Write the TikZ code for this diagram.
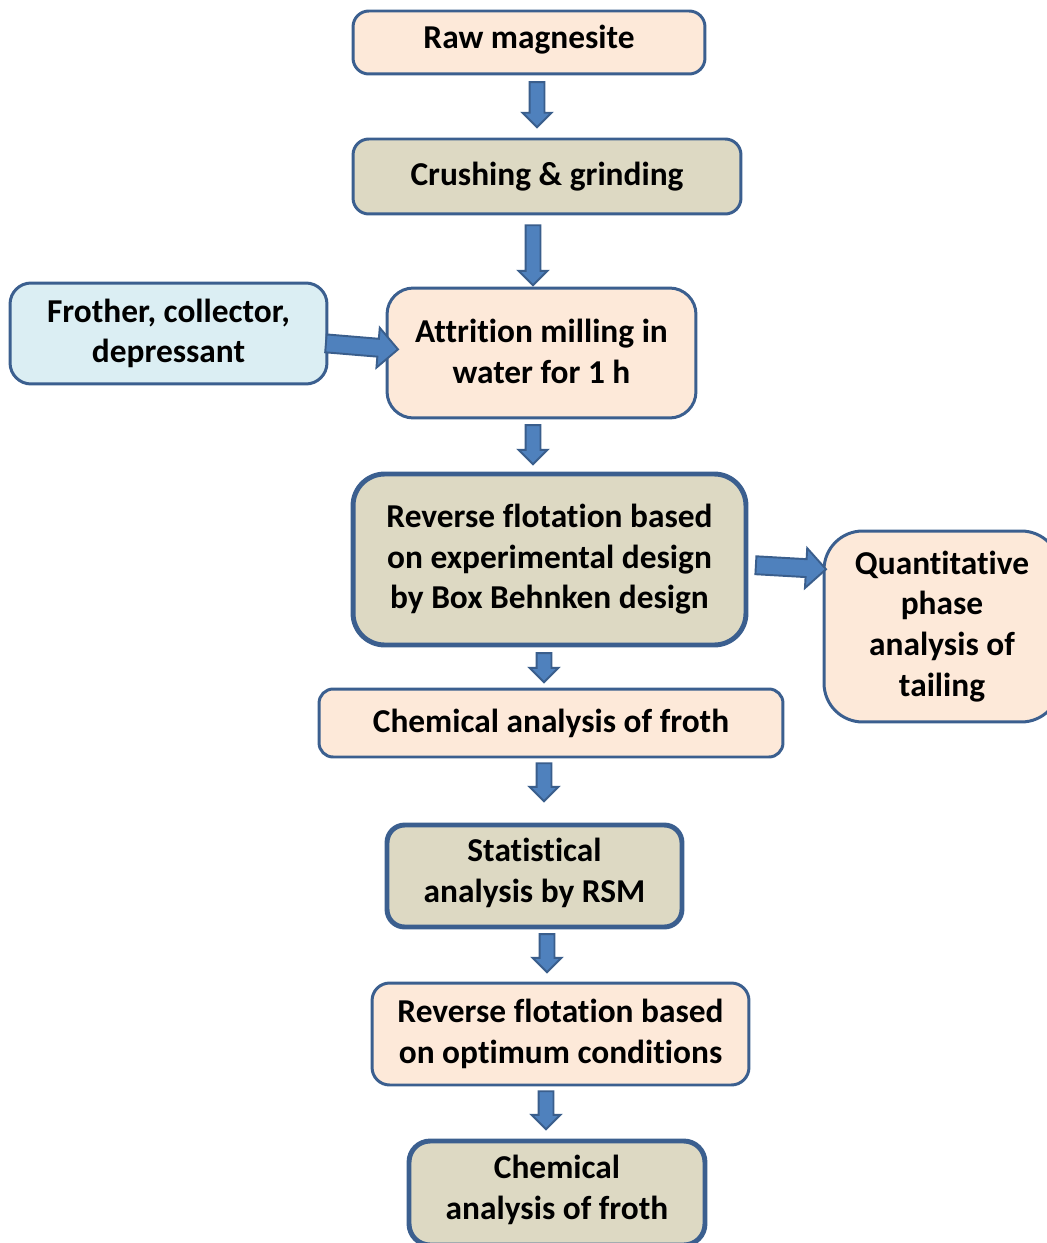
\documentclass[tikz,border=0pt]{standalone}
\usepackage{fontspec}
\setmainfont{Carlito}[RawFeature={-liga;-clig;-dlig}]
\usetikzlibrary{shapes.arrows,calc}

\definecolor{boxline}{HTML}{3B5F8F}
\definecolor{arrowline}{HTML}{3A5E8C}
\definecolor{arrowfill}{HTML}{4F81BD}
\definecolor{peachfill}{HTML}{FDE9D9}
\definecolor{tanfill}{HTML}{DDD9C3}
\definecolor{bluefill}{HTML}{DBEEF3}

\tikzset{
  stepbox/.style={draw=boxline, line width=1.7pt, align=center, inner sep=0pt,
    font=\bfseries\fontsize{19}{23.2}\selectfont},
  peach/.style={stepbox, fill=peachfill},
  tan/.style={stepbox, fill=tanfill},
  heavy/.style={line width=2.8pt},
  lift/.style={execute at end node={\rule[-#1]{0pt}{#1}}},
  blockarrow/.style={single arrow, draw=arrowline, fill=arrowfill, line width=1.1pt,
    inner xsep=0pt, inner ysep=0.13cm, single arrow head extend=0.14cm, allow upside down},
  widearrow/.style={inner ysep=0.16cm, single arrow head extend=0.22cm},
}

% block arrow between two points
\newcommand\flowarrow[3][]{%
  \path let \p1=(#2), \p2=(#3), \n1={veclen(\x2-\x1,\y2-\y1)} in
    (\p1) -- (\p2) node[midway, sloped, blockarrow, minimum height=\n1, #1] {};}

\begin{document}
\begin{tikzpicture}[x=0.02cm, y=-0.02cm]
	\useasboundingbox (0,0) rectangle (1047,1243);

	\node (raw)[peach, lift=0.24cm, rounded corners=9pt, minimum width=7.04cm, minimum height=1.26cm] at (529,42.5) {Raw magnesite};
	\node (crush)[tan, rounded corners=9pt, minimum width=7.76cm, minimum height=1.5cm] at (547,176.5) {Crushing \& grinding};
	\node (froth)[stepbox, fill=bluefill, rounded corners=12pt, minimum width=6.34cm, minimum height=2.02cm] at (168.5,333.5) {Frother, collector,\\depressant};
	\node (mill)[peach, lift=0.08cm, rounded corners=15pt, minimum width=6.18cm, minimum height=2.6cm] at (541.5,353) {Attrition milling in\\water for 1 h};
	\node (bbd)[tan, heavy, lift=0.12cm, rounded corners=18pt, minimum width=7.86cm, minimum height=3.42cm] at (549.5,559.5) {Reverse flotation based\\on experimental design\\by Box Behnken design};
	\node (quant)[peach, lift=0.12cm, rounded corners=22pt, minimum width=4.72cm, minimum height=3.82cm] at (942,626.5) {Quantitative\\phase\\analysis of\\tailing};
	\node (chemA)[peach, rounded corners=8pt, minimum width=9.28cm, minimum height=1.36cm] at (551,723) {Chemical analysis of froth};
	\node (rsm)[tan, heavy, lift=0.24cm, rounded corners=10pt, minimum width=5.9cm, minimum height=2.04cm] at (534.5,876) {Statistical\\analysis by RSM};
	\node (opt)[peach, rounded corners=10pt, minimum width=7.54cm, minimum height=2.04cm] at (560.5,1034) {Reverse flotation based\\on optimum conditions};
	\node (chemB)[tan, heavy, lift=0.24cm, rounded corners=12pt, minimum width=5.92cm, minimum height=2.08cm] at (557,1193) {Chemical\\analysis of froth};

	\flowarrow{$(raw.south)+(8,3)$}{$(crush.north)+(-10,-14)$}
	\flowarrow{$(crush.south)+(-14,6)$}{$(mill.north)+(-8.5,-5)$}
	\flowarrow[widearrow]{$(froth.east)+(-7,9.5)$}{$(mill.west)+(8,-4)$}
	\flowarrow{$(mill.south)+(-8.5,2)$}{$(bbd.north)+(-16.5,-11)$}
	\flowarrow{$(bbd.south)+(-5.5,2)$}{$(chemA.north)+(-7,-9)$}
	\flowarrow[widearrow]{$(bbd.east)+(3,5.5)$}{$(quant.west)+(-1,-57.5)$}
	\flowarrow{$(chemA.south)+(-7,1)$}{$(rsm.north)+(9.5,-25)$}
	\flowarrow{$(rsm.south)+(12.5,1)$}{$(opt.north)+(-13.5,-13)$}
	\flowarrow{$(opt.south)+(-14.5,1)$}{$(chemB.north)+(-11,-13)$}
\end{tikzpicture}
\end{document}
